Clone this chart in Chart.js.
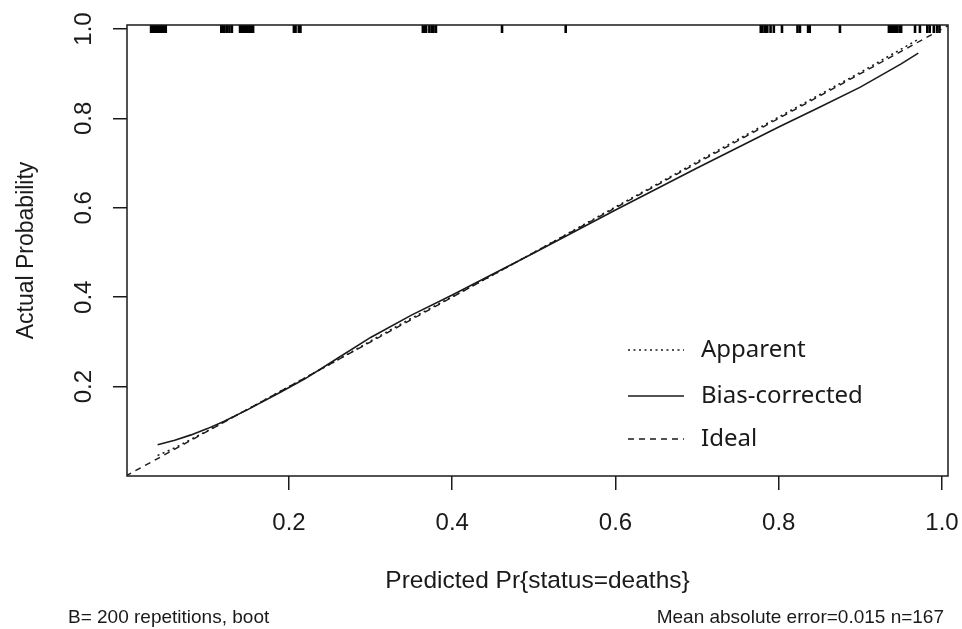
<!DOCTYPE html>
<html><head><meta charset="utf-8">
<script src="https://cdn.jsdelivr.net/npm/chart.js@4.4.1/dist/chart.umd.min.js"></script>
<style>html,body{margin:0;padding:0;background:#fff;overflow:hidden}canvas{display:block}</style>
</head><body>
<canvas id="c" width="962" height="629"></canvas>
<script>
const xTicks = [0.2, 0.4, 0.6, 0.8, 1.0];
const xTickLabels = ['0.2', '0.4', '0.6', '0.8', '1.0'];
const yTicks = [0.2, 0.4, 0.6, 0.8, 1.0];
const yTickLabels = ['0.2', '0.4', '0.6', '0.8', '1.0'];
const xRange = [0.0015, 1.0074];
const yRange = [0.0, 1.009];

const predX = [0.039, 0.06, 0.08, 0.10, 0.12, 0.15, 0.19, 0.22, 0.26, 0.30, 0.35, 0.40, 0.45, 0.50, 0.55, 0.60, 0.65, 0.70, 0.75, 0.80, 0.85, 0.90, 0.95, 0.971];
const apparentY = [0.046, 0.063, 0.082, 0.101, 0.121, 0.150, 0.190, 0.220, 0.260, 0.302, 0.353, 0.401, 0.450, 0.500, 0.551, 0.602, 0.652, 0.703, 0.753, 0.803, 0.853, 0.903, 0.955, 0.977];
const biasCorrectedY = [0.070, 0.080, 0.092, 0.106, 0.122, 0.149, 0.188, 0.218, 0.264, 0.310, 0.360, 0.405, 0.452, 0.499, 0.547, 0.595, 0.642, 0.689, 0.735, 0.781, 0.825, 0.870, 0.922, 0.946];
const idealX = [0, 1.0074];
const idealY = [0, 1.0074];
const rugX = [0.031,0.033,0.035,0.037,0.039,0.041,0.043,0.045,0.047,0.049,
  0.117,0.119,0.121,0.124,0.127,0.130,
  0.140,0.142,0.144,0.146,0.148,0.150,0.152,0.154,0.156,
  0.206,0.208,0.212,0.214,
  0.364,0.366,0.368,0.372,0.375,0.377,0.380,
  0.461,0.539,
  0.778,0.780,0.783,0.786,0.790,0.794,0.804,
  0.823,0.826,0.836,0.838,0.875,
  0.935,0.937,0.939,0.941,0.943,0.945,0.948,0.950,
  0.967,0.973,0.982,0.985,0.990,0.994,0.997];
const rugLevel = 1.0;

const legendItems = ['Apparent', 'Bias-corrected', 'Ideal'];
const xTitle = 'Predicted Pr{status=deaths}';
const yTitle = 'Actual Probability';
const subLeft = 'B= 200 repetitions, boot';
const subRight = 'Mean absolute error=0.015 n=167';

const INK = '#1a1a1a';
const FONT = '"Liberation Sans", Arial, sans-serif';
const pts = (xs, ys) => xs.map((x, i) => ({x, y: ys[i]}));

const overlay = {
  id: 'overlay',
  afterDatasetsDraw(chart) {
    const {ctx, chartArea: a, scales: {x, y}} = chart;
    ctx.save();
    ctx.strokeStyle = INK; ctx.lineWidth = 1.5; ctx.setLineDash([]);
    ctx.strokeRect(a.left, a.top, a.right - a.left, a.bottom - a.top);
    ctx.fillStyle = INK;
    ctx.font = '24px ' + FONT;
    ctx.textAlign = 'center'; ctx.textBaseline = 'middle';
    yTicks.forEach((v, i) => {
      const py = y.getPixelForValue(v);
      ctx.save(); ctx.translate(84, py); ctx.rotate(-Math.PI / 2);
      ctx.fillText(yTickLabels[i], 0, 0); ctx.restore();
    });
    const ds = chart.data.datasets;
    const rows = [350, 396, 439];
    ctx.font = '24px "Noto Sans", "Open Sans", sans-serif';
    ctx.textAlign = 'left';
    legendItems.forEach((t, i) => {
      const d = ds[i];
      ctx.beginPath();
      ctx.strokeStyle = INK; ctx.lineWidth = d.borderWidth;
      ctx.setLineDash(d.borderDash || []);
      ctx.moveTo(628, rows[i]); ctx.lineTo(684, rows[i]); ctx.stroke();
      ctx.setLineDash([]);
      ctx.fillText(t, 701, rows[i]);
    });
    ctx.font = '19px ' + FONT;
    ctx.textBaseline = 'alphabetic';
    ctx.textAlign = 'left'; ctx.fillText(subLeft, 68, 623);
    ctx.textAlign = 'right'; ctx.fillText(subRight, 944, 623);
    ctx.restore();
  }
};

new Chart(document.getElementById('c'), {
  type: 'scatter',
  data: {
    datasets: [
      {label: 'Apparent', data: pts(predX, apparentY), showLine: true, borderColor: INK, borderWidth: 1.6, borderDash: [2, 3.5], pointRadius: 0, fill: false},
      {label: 'Bias-corrected', data: pts(predX, biasCorrectedY), showLine: true, borderColor: INK, borderWidth: 1.6, pointRadius: 0, fill: false},
      {label: 'Ideal', data: pts(idealX, idealY), showLine: true, borderColor: INK, borderWidth: 1.4, borderDash: [6, 5], pointRadius: 0, fill: false},
      {label: 'rug', data: rugX.map(v => ({x: v, y: rugLevel})), showLine: false, pointStyle: 'line', rotation: 90, pointRadius: 4, borderColor: '#000', borderWidth: 2.6, pointHoverRadius: 4}
    ]
  },
  options: {
    responsive: false, animation: false, devicePixelRatio: 1,
    layout: {padding: {top: 25, right: 14, left: 0, bottom: 0}},
    plugins: {legend: {display: false}, tooltip: {enabled: false}},
    scales: {
      x: {
        type: 'linear', min: xRange[0], max: xRange[1],
        afterBuildTicks: s => { s.ticks = xTicks.map(v => ({value: v})); },
        afterFit: s => { s.height = 153; s.paddingLeft = 0; s.paddingRight = 0; },
        grid: {drawOnChartArea: false, drawTicks: true, tickLength: 14, color: INK, lineWidth: 1.5},
        border: {display: false},
        ticks: {color: INK, padding: 19, maxRotation: 0, font: {family: FONT, size: 24},
          callback: (v) => { const i = xTicks.findIndex(t => Math.abs(t - v) < 1e-9); return i >= 0 ? xTickLabels[i] : ''; }},
        title: {display: true, text: xTitle, color: INK, font: {family: FONT, size: 24.5}, padding: {top: 0, bottom: 33}}
      },
      y: {
        type: 'linear', min: yRange[0], max: yRange[1],
        afterBuildTicks: s => { s.ticks = yTicks.map(v => ({value: v})); },
        afterFit: s => { s.width = 127; s.paddingTop = 0; s.paddingBottom = 0; },
        grid: {drawOnChartArea: false, drawTicks: true, tickLength: 14, color: INK, lineWidth: 1.5},
        border: {display: false},
        ticks: {display: false},
        title: {display: true, text: yTitle, color: INK, font: {family: FONT, size: 23}, padding: {top: 13, bottom: 0}}
      }
    }
  },
  plugins: [overlay]
});
</script>
</body></html>
